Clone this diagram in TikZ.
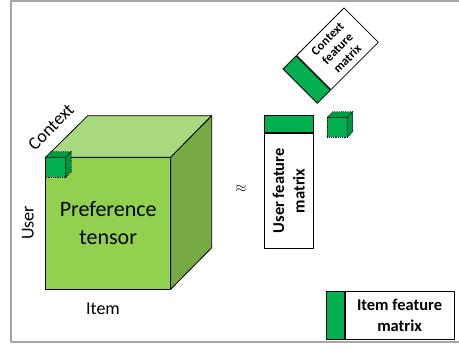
\documentclass[tikz,border=0pt]{standalone}
\usepackage{fontspec}
\setmainfont{Carlito}
\usetikzlibrary{positioning}

\definecolor{frontgreen}{HTML}{92D050}
\definecolor{topgreen}{HTML}{A9D97E}
\definecolor{sidegreen}{HTML}{77A944}
\definecolor{bandgreen}{HTML}{00B050}
\definecolor{framegray}{HTML}{A6A6A6}

\begin{document}
\begin{tikzpicture}[
    x = 1pt, y = 1pt, % one unit per pixel
    line width = 0.8pt, % line style
    line join = round
    ]

    \tikzset{
    matbox/.style = {draw = black, fill = white, inner sep = 0pt, align = center,
        font = \bfseries\fontsize{16.5}{20.5}\selectfont},
    band/.style = {draw = black, fill = bandgreen, inner sep = 0pt},
    dimlabel/.style = {inner sep = 0pt, font = \fontsize{18}{21}\selectfont},
    minicube/.pic = {
        \path[draw = black, densely dotted, fill = bandgreen] (0,-20) rectangle (20,0);
        \path[draw = black, densely dotted, fill = bandgreen!90!black] (0,0) -- (5.5,5.5) -- (25.5,5.5) -- (20,0) -- cycle;
        \path[draw = black, densely dotted, fill = bandgreen!85!black] (20,0) -- (25.5,5.5) -- (25.5,-14.5) -- (20,-20) -- cycle;
    }
    }

    \useasboundingbox (0,0) rectangle (459,349);
    % frame
    \draw[framegray, line width = 1.3pt] (459,348) -- (11,348) -- (11,7) -- (459,7);

    % preference tensor
    \coordinate (f1) at (45.7,59.7);
    \coordinate (f2) at (170.7,59.7);
    \coordinate (f3) at (170.7,191.7);
    \coordinate (f4) at (45.7,191.7);
    \coordinate (b2) at (211.7,101.3);
    \coordinate (b3) at (211.7,233.3);
    \coordinate (b4) at (87.7,233.3);
    \draw[fill = frontgreen] (f1) -- (f2) -- (f3) -- (f4) -- cycle;
    \draw[fill = topgreen] (f4) -- (b4) -- (b3) -- (f3) -- cycle;
    \draw[fill = sidegreen] (f2) -- (b2) -- (b3) -- (f3) -- cycle;
    \node[align = center, font = \fontsize{22}{28}\selectfont] (tensor) at (108.2,125.7) {Preference\\tensor};
    \pic at (f4) {minicube};

    \node[dimlabel, rotate = 45] (ctxlabel) at (51,222) {Context};
    \node[dimlabel, rotate = 90] (userlabel) at (28,126) {User};
    \node[dimlabel] (itemlabel) at (103,40) {Item};

    \node[font = \fontsize{15}{17}\selectfont] (approx) at (241,160) {$\approx$};

    % factor matrices
    \node[matbox, rotate = 90, minimum width = 115pt, minimum height = 49pt] (usermat) at (288.8,158.2) {User feature\\matrix};
    \node[band, rotate = 90, minimum width = 17.3pt, minimum height = 49pt, right = 0pt of usermat] (userband) {};

    \node[matbox, minimum width = 109.3pt, minimum height = 48.5pt] (itemmat) at (399.6,33.7) {Item feature\\matrix};
    \node[band, minimum width = 17.3pt, minimum height = 48.5pt, left = 0pt of itemmat] (itemband) {};

    \node[matbox, rotate = 45, minimum width = 67pt, minimum height = 48.5pt,
        font = \bfseries\fontsize{12.5}{14}\selectfont] (ctxmat) at (337.5,300.2) {Context\\feature\\matrix};
    \node[band, rotate = 45, minimum width = 18.5pt, minimum height = 48.5pt, left = 0pt of ctxmat] (ctxband) {};

    \pic at (327.3,231.7) {minicube};
\end{tikzpicture}
\end{document}
